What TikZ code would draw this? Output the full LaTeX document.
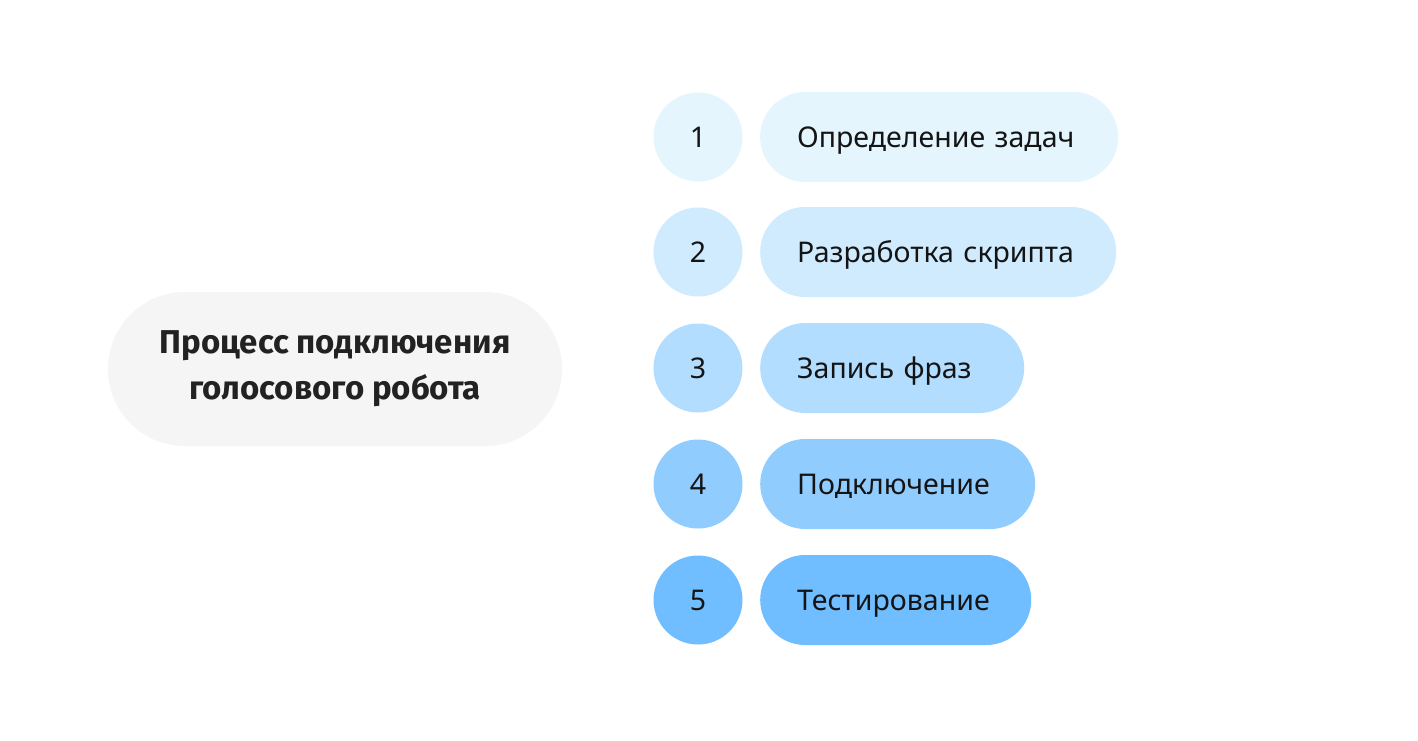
\documentclass[tikz,border=0pt]{standalone}
\usepackage{fontspec}
\setmainfont{Noto Sans}
\newfontfamily\titlefont{Fira Sans}
\definecolor{cA}{HTML}{E4F5FE}
\definecolor{cB}{HTML}{CFEBFD}
\definecolor{cC}{HTML}{B2DDFF}
\definecolor{cD}{HTML}{91CCFF}
\definecolor{cE}{HTML}{70BDFF}
\definecolor{cTitle}{HTML}{F5F5F5}
\definecolor{txt}{HTML}{141414}
\definecolor{ttxt}{HTML}{222222}
\begin{document}
\begin{tikzpicture}[x=1pt,y=-1pt,
  numc/.style={circle, fill=#1, minimum size=89pt, inner sep=0pt, text=txt,
    text height=20.5pt, text depth=0pt,
    font=\fontsize{28.5}{34}\selectfont},
  pill/.style={rectangle, rounded corners=45pt, fill=#1, minimum height=90pt,
    inner xsep=37pt, inner ysep=0pt, align=left, anchor=west, text=txt,
    text height=20.5pt, text depth=0pt,
    font=\fontsize{28.5}{34}\selectfont},
  titlebox/.style={rectangle, rounded corners=77pt, fill=cTitle, minimum width=454pt,
    minimum height=154pt, align=center, text=ttxt,
    font=\titlefont\fontsize{33}{46}\selectfont\bfseries}]
\useasboundingbox[fill=white] (0,0) rectangle (1418,740);
\node[titlebox] (title) at (335,369) {Процесс подключения\\голосового робота};
\node[numc=cA] (n1) at (698,137) {1};
\node[numc=cB] (n2) at (698,252) {2};
\node[numc=cC] (n3) at (698,368) {3};
\node[numc=cD] (n4) at (698,484) {4};
\node[numc=cE] (n5) at (698,600) {5};
\node[pill=cA, text width=284pt] (p1) at (760,137) {Определение задач};
\node[pill=cB, text width=282pt] (p2) at (760,252) {Разработка скрипта};
\node[pill=cC, text width=190pt] (p3) at (760,368) {Запись фраз};
\node[pill=cD, text width=201pt] (p4) at (760,484) {Подключение};
\node[pill=cE, text width=197pt] (p5) at (760,600) {Тестирование};
\end{tikzpicture}
\end{document}
